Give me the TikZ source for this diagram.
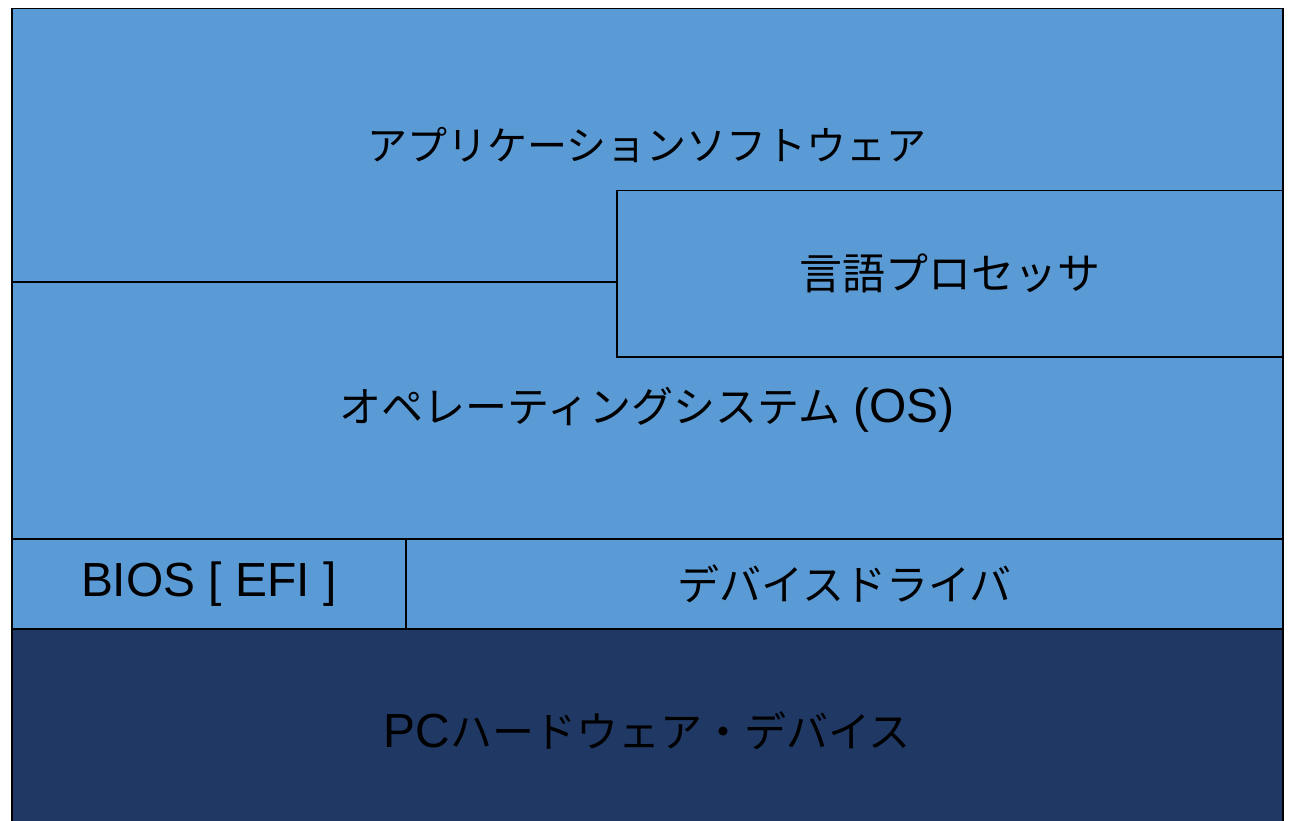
\documentclass[tikz,border=0pt]{standalone}
\usepackage{fontspec}
\setmainfont{Liberation Sans}[Scale=1.14]
\newfontfamily\jp{Noto Sans CJK JP}
\definecolor{lightblue}{HTML}{5B9BD5}
\definecolor{navy}{HTML}{203864}
\begin{document}
\begin{tikzpicture}[x=1pt,y=-1pt,
  layer/.style={draw=black, line width=1.5pt, fill=lightblue, anchor=north west, inner sep=0pt, font=\fontsize{42}{48}\selectfont},
  hwlayer/.style={layer, fill=navy}]
\useasboundingbox (0,0) rectangle (1292,821);
\clip (0,0) rectangle (1292,821);
\node[layer, minimum width=1271pt, minimum height=273pt, font=\fontsize{40}{46}\selectfont] (app) at (11,8) {\jp アプリケーションソフトウェア};
\node[layer, minimum width=1271pt, minimum height=257pt] (os) at (11,281) {{\jp オペレーティングシステム} (OS)};
\node[layer, minimum width=666pt, minimum height=166pt, font=\fontsize{43}{48}\selectfont] (lang) at (616,190) {\jp 言語プロセッサ};
\node[layer, minimum width=394pt, minimum height=90pt] (bios) at (11,538) {BIOS [ EFI ]};
\node[layer, minimum width=877pt, minimum height=90pt] (drv) at (405,538) {\jp デバイスドライバ};
\node[hwlayer, minimum width=1271pt, minimum height=204pt] (hw) at (11,628) {PC{\jp ハードウェア・デバイス}};
\end{tikzpicture}
\end{document}
